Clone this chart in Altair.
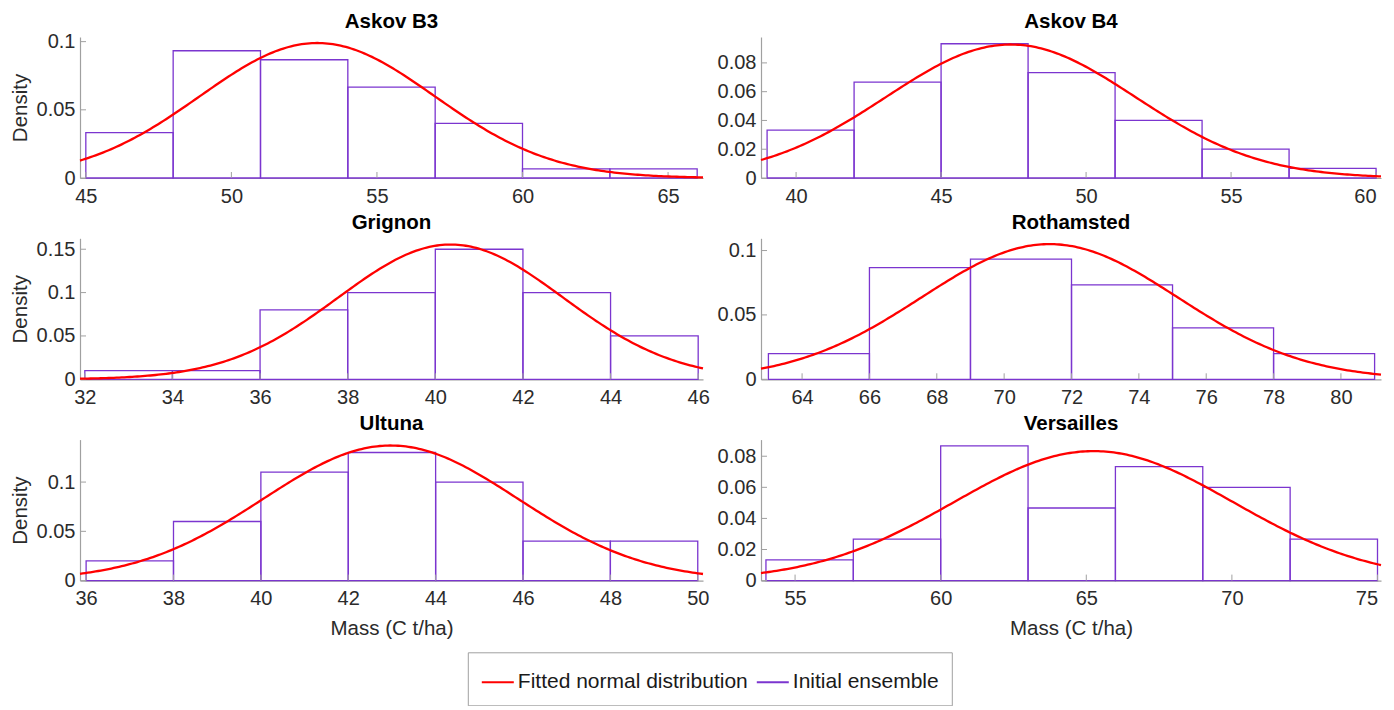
import altair as alt
import numpy as np
import pandas as pd

SITES = ["Askov B3", "Askov B4", "Grignon", "Rothamsted", "Ultuna", "Versailles"]

# histogram bin edges and densities
EDGES_ASKOV_B3 = [45, 48, 51, 54, 57, 60, 63, 66]
DENS_ASKOV_B3 = [0.0333, 0.0933, 0.0867, 0.0667, 0.04, 0.0067, 0.0067]
EDGES_ASKOV_B4 = [39, 42, 45, 48, 51, 54, 57, 60]
DENS_ASKOV_B4 = [0.0333, 0.0667, 0.0933, 0.0733, 0.04, 0.02, 0.0067]
EDGES_GRIGNON = [32, 34, 36, 38, 40, 42, 44, 46]
DENS_GRIGNON = [0.01, 0.01, 0.08, 0.10, 0.15, 0.10, 0.05]
EDGES_ROTHAMSTED = [63, 66, 69, 72, 75, 78, 81]
DENS_ROTHAMSTED = [0.02, 0.0867, 0.0933, 0.0733, 0.04, 0.02]
EDGES_ULTUNA = [36, 38, 40, 42, 44, 46, 48, 50]
DENS_ULTUNA = [0.02, 0.06, 0.11, 0.13, 0.10, 0.04, 0.04]
EDGES_VERSAILLES = [54, 57, 60, 63, 66, 69, 72, 75]
DENS_VERSAILLES = [0.0133, 0.0267, 0.0867, 0.0467, 0.0733, 0.06, 0.0267]

EDGES = [EDGES_ASKOV_B3, EDGES_ASKOV_B4, EDGES_GRIGNON, EDGES_ROTHAMSTED, EDGES_ULTUNA, EDGES_VERSAILLES]
DENS = [DENS_ASKOV_B3, DENS_ASKOV_B4, DENS_GRIGNON, DENS_ROTHAMSTED, DENS_ULTUNA, DENS_VERSAILLES]

# fitted normal distribution parameters
MU = [52.95, 47.4, 40.35, 71.35, 42.97, 65.25]
SIGMA = [4.03, 4.30, 2.567, 3.80, 2.91, 4.79]

# axis ranges and ticks
X_DOMAINS = [[44.8, 66.2], [38.79, 60.17], [31.89, 46.11], [62.78, 81.19], [35.86, 50.12], [53.83, 75.12]]
Y_TOPS = [0.1034, 0.098, 0.1626, 0.1095, 0.1431, 0.0907]
X_TICKS = [
    [45, 50, 55, 60, 65],
    [40, 45, 50, 55, 60],
    [32, 34, 36, 38, 40, 42, 44, 46],
    [64, 66, 68, 70, 72, 74, 76, 78, 80],
    [36, 38, 40, 42, 44, 46, 48, 50],
    [55, 60, 65, 70, 75],
]
Y_TICKS = [
    [0, 0.05, 0.1],
    [0, 0.02, 0.04, 0.06, 0.08],
    [0, 0.05, 0.1, 0.15],
    [0, 0.05, 0.1],
    [0, 0.05, 0.1],
    [0, 0.02, 0.04, 0.06, 0.08],
]
# title gap above each panel (the first panel's top tick label rises above its plot)
TITLE_OFFSETS = [-0.6, 4.8, 4.8, 4.8, 4.8, 4.8]

SERIES = ["Fitted normal distribution", "Initial ensemble"]
COLORS = ["#ff0000", "#7b35cf"]

FONT = "Liberation Sans"
AXIS_GREY = "#a0a0a0"
TEXT_GREY = "#2b2b2b"
H = 141
W_LEFT = 623
W_RIGHT = 620
TICK_LEN = 6


def panel(i):
    e = EDGES[i]
    bars = pd.DataFrame({"x0": e[:-1], "x1": e[1:], "d": DENS[i], "series": SERIES[1]})
    xs = np.linspace(X_DOMAINS[i][0], X_DOMAINS[i][1], 240)
    ys = np.exp(-0.5 * ((xs - MU[i]) / SIGMA[i]) ** 2) / (SIGMA[i] * np.sqrt(2 * np.pi))
    curve = pd.DataFrame({"x": xs, "y": ys, "series": SERIES[0]})
    xt = pd.DataFrame({"t": X_TICKS[i]})
    yt = pd.DataFrame({"t": Y_TICKS[i]})

    left = i % 2 == 0
    bottom = i >= 4
    xscale = alt.Scale(domain=X_DOMAINS[i], nice=False, zero=False)
    yscale = alt.Scale(domain=[0, Y_TOPS[i]], nice=False, zero=False)
    xaxis_kw = dict(values=X_TICKS[i], title="Mass (C t/ha)" if bottom else "", format="d",
                    labelOverlap=False)
    if not left:
        xaxis_kw["labelFlush"] = 7
    xaxis = alt.Axis(**xaxis_kw)
    yaxis = alt.Axis(values=Y_TICKS[i], title="Density" if left else "", format="~g",
                     labelOverlap=False)
    width = W_LEFT if left else W_RIGHT
    stroke = alt.Stroke(
        "series:N",
        scale=alt.Scale(domain=SERIES, range=COLORS),
        legend=alt.Legend(title=None),
    )
    b = alt.Chart(bars).mark_rect(fillOpacity=0, strokeWidth=1.3).encode(
        x=alt.X("x0:Q", scale=xscale, axis=xaxis),
        x2="x1:Q",
        y=alt.Y("d:Q", scale=yscale, axis=yaxis),
        y2=alt.datum(0),
        stroke=stroke,
    )
    c = alt.Chart(curve).mark_line(strokeWidth=2.3).encode(
        x=alt.X("x:Q", scale=xscale, axis=xaxis),
        y=alt.Y("y:Q", scale=yscale, axis=yaxis),
        stroke=stroke,
    )
    xtick = alt.Chart(xt).mark_rule(color=AXIS_GREY, strokeWidth=1).encode(
        x=alt.X("t:Q", scale=xscale, axis=xaxis),
        y=alt.value(H),
        y2=alt.value(H - TICK_LEN),
    )
    ytick = alt.Chart(yt).mark_rule(color=AXIS_GREY, strokeWidth=1).encode(
        y=alt.Y("t:Q", scale=yscale, axis=yaxis),
        x=alt.value(0),
        x2=alt.value(TICK_LEN),
    )
    return alt.layer(b, xtick, ytick, c).properties(
        width=width, height=H, title=alt.TitleParams(SITES[i], offset=TITLE_OFFSETS[i])
    )


chart = alt.concat(*[panel(i) for i in range(6)], columns=2, spacing={"row": 6.3, "column": 7}).properties(
    padding={"left": 2, "top": 3, "right": 0, "bottom": 0}
).configure_view(stroke=None).configure_axis(
    labelFont=FONT, titleFont=FONT, labelFontSize=20, titleFontSize=20.5,
    labelColor=TEXT_GREY, titleColor=TEXT_GREY, titleFontWeight="normal",
    domainColor=AXIS_GREY, domainWidth=1.2, ticks=False, labelPadding=5, grid=False,
    labelOverlap=False,
).configure_axisY(titlePadding=5.5).configure_axisX(titlePadding=10, labelPadding=8).configure_title(
    font=FONT, fontSize=20.5, fontWeight="bold", color="black", anchor="middle",
    frame="group", baseline="alphabetic",
).configure_legend(
    orient="none", legendX=387.8, legendY=615.3, direction="horizontal",
    symbolType="stroke", symbolSize=1024, symbolStrokeWidth=2,
    labelFont=FONT, labelFontSize=21, labelColor="#1a1a1a", labelOffset=3, labelLimit=600,
    columnPadding=5, padding=13, strokeColor="#a0a0a0", fillColor="white",
)

chart.save("out.html", embed_options={"renderer": "svg", "actions": False})
